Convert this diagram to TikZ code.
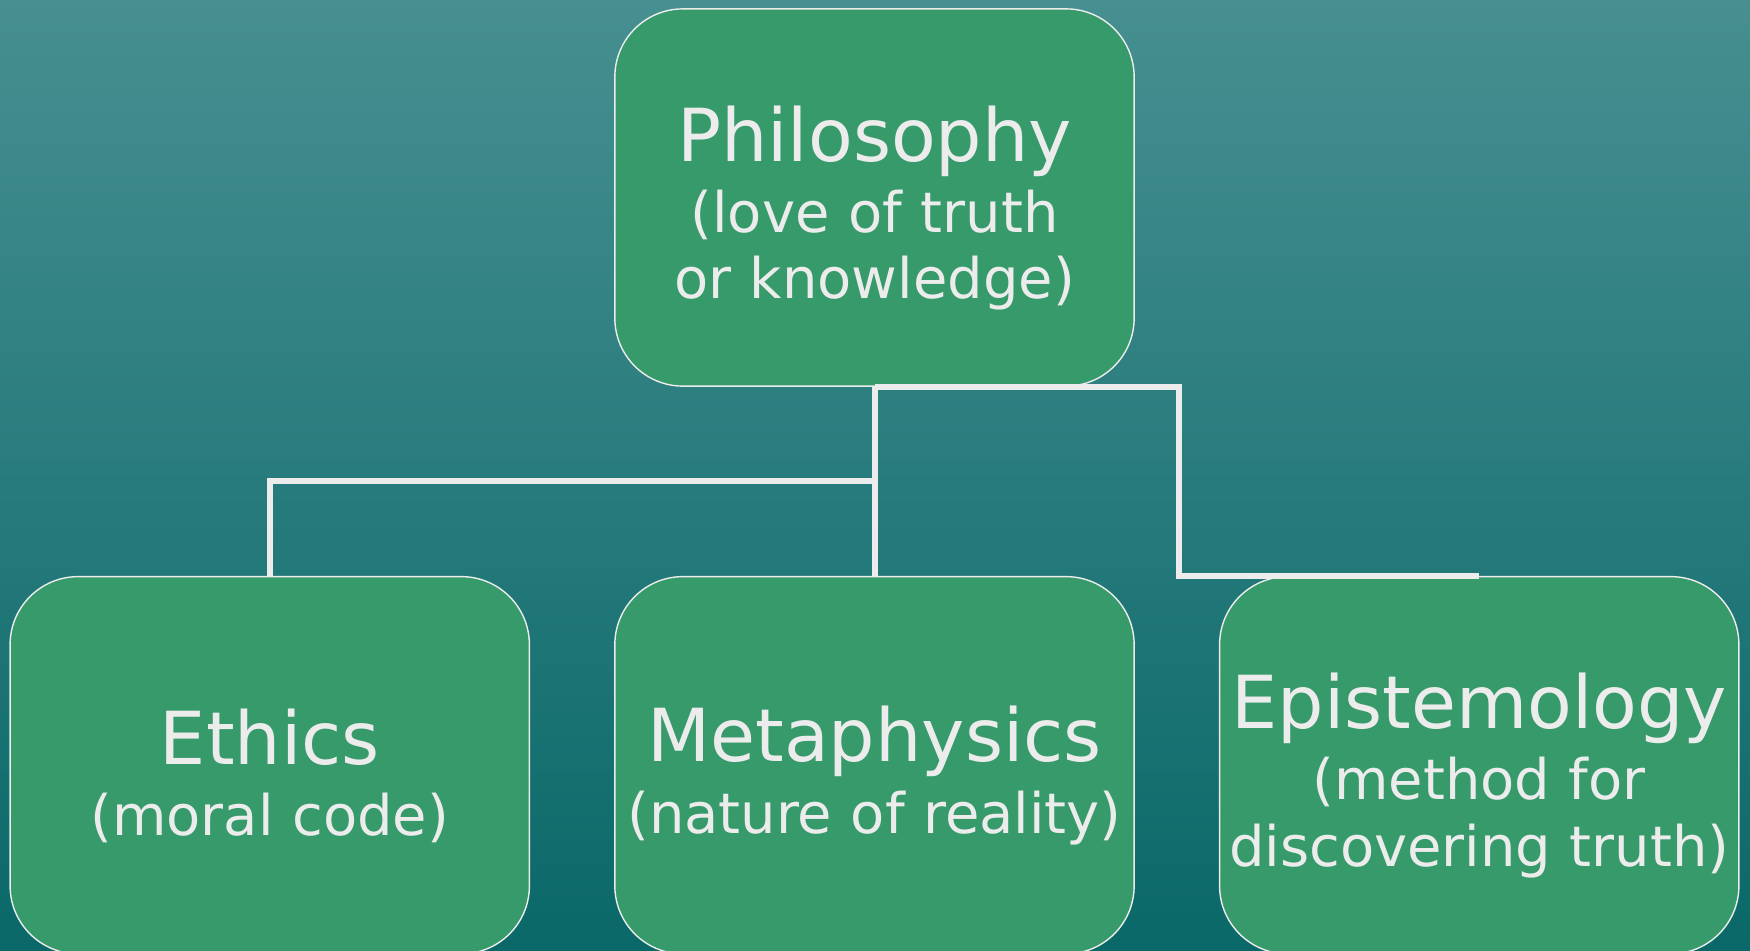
\documentclass[tikz,border=0pt]{standalone}
\usepackage{fontspec}
\setmainfont{DejaVu Sans}
\usetikzlibrary{positioning}

\definecolor{bgtop}{HTML}{478F91}
\definecolor{bgbottom}{HTML}{0A6868}
\definecolor{boxgreen}{HTML}{369A6A}
\definecolor{paleline}{HTML}{ECECEC}

\newcommand{\headtext}[1]{{\fontsize{20.8pt}{23pt}\selectfont\rule{0pt}{0.76cm}#1}}
\newcommand{\subtext}{\fontsize{15.9pt}{18.8pt}\selectfont}

\begin{document}
\begin{tikzpicture}[x=0.01cm, y=-0.01cm, node distance=1.89cm and 0.84cm,
    branch/.style={draw=paleline, line width=0.4pt, fill=boxgreen, rounded corners=0.68cm,
        minimum width=5.19cm, minimum height=3.77cm, text width=5.19cm, inner sep=0pt,
        align=center, text=paleline, font=\subtext},
    link/.style={draw=paleline, line width=0.06cm}]
    % background
    \fill[top color=bgtop, bottom color=bgbottom] (0,0) rectangle (1750,951);
    \useasboundingbox (0,0) rectangle (1750,951);

    \node[branch] (philosophy) at (874.5,197.5)
        {\headtext{Philosophy}\\[0.05cm](love of truth\\or knowledge)};
    \node[branch] (metaphysics) [below=of philosophy]
        {\headtext{Metaphysics}\\[0.05cm](nature of reality)};
    \node[branch] (ethics) [left=of metaphysics]
        {\headtext{Ethics}\\[0.05cm](moral code)};
    \node[branch] (epistemology) [right=of metaphysics]
        {\headtext{Epistemology}\\[0.05cm](method for\\discovering truth)};

    \draw[link] (philosophy.south) -- ++(0,94) -| (ethics.north);
    \draw[link] (philosophy.south) -- (metaphysics.north);
    \draw[link] (philosophy.south) -- ++(304,0) |- (epistemology.north);
\end{tikzpicture}
\end{document}
